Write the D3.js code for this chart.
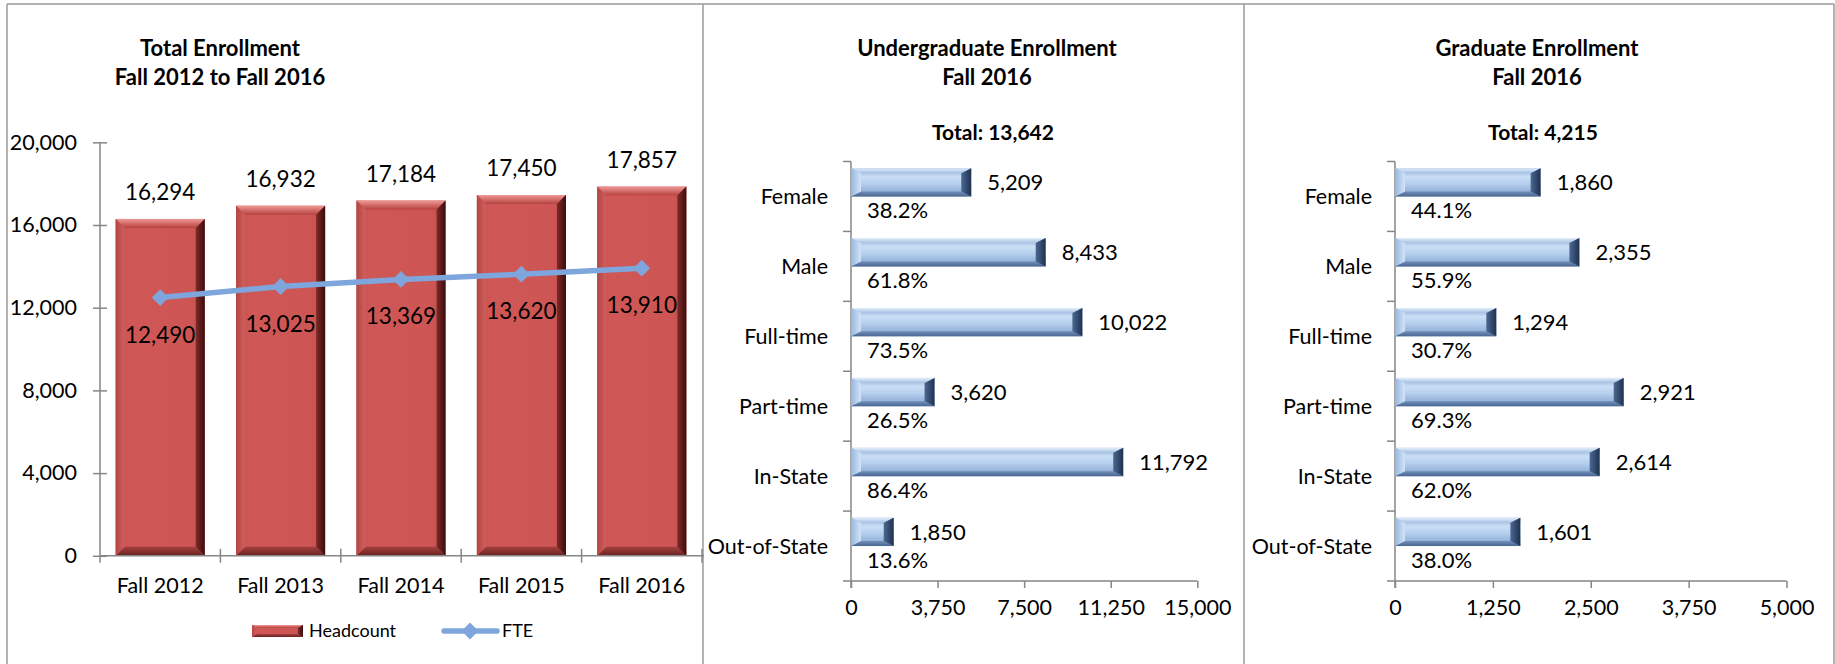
<!DOCTYPE html>
<html>
<head>
<meta charset="utf-8">
<script src="https://cdn.jsdelivr.net/npm/d3@7"></script>
<style>
body { margin: 0; background: #fff; }
svg { display: block; font-family: Lato, "Open Sans", sans-serif; }
</style>
</head>
<body>
<svg width="1835" height="664"></svg>
<script>
// total enrollment
var years = ["Fall 2012", "Fall 2013", "Fall 2014", "Fall 2015", "Fall 2016"],
    headcount = [16294, 16932, 17184, 17450, 17857],
    fte = [12490, 13025, 13369, 13620, 13910],
    totalTicks = [0, 4000, 8000, 12000, 16000, 20000];

// breakdowns, fall 2016
var categories = ["Female", "Male", "Full-time", "Part-time", "In-State", "Out-of-State"],
    ugValues = [5209, 8433, 10022, 3620, 11792, 1850],
    ugPercents = [38.2, 61.8, 73.5, 26.5, 86.4, 13.6],
    ugTicks = [0, 3750, 7500, 11250, 15000],
    gradValues = [1860, 2355, 1294, 2921, 2614, 1601],
    gradPercents = [44.1, 55.9, 30.7, 69.3, 62.0, 38.0],
    gradTicks = [0, 1250, 2500, 3750, 5000];

var svg = d3.select("svg"),
    fmt = d3.format(","),
    pct = function(d) { return d3.format(".1f")(d) + "%"; },
    axisColor = "#868686";

// gradients for the bevelled bars
var defs = svg.append("defs");
function grad(id, vertical, stops) {
  var lg = defs.append("linearGradient").attr("id", id)
    .attr("x1", 0).attr("y1", 0).attr("x2", vertical ? 0 : 1).attr("y2", vertical ? 1 : 0);
  stops.forEach(function(s) {
    lg.append("stop").attr("offset", s[0]).attr("stop-color", s[1]);
  });
}
grad("redFace", false, [[0, "#c24c4a"], [0.15, "#cf5856"], [0.85, "#cd5654"], [1, "#c04b49"]]);
grad("redTop", true, [[0, "#ef9895"], [1, "#b6413f"]]);
grad("redBot", true, [[0, "#a3403e"], [1, "#6a2422"]]);
grad("redLeft", false, [[0, "#b54543"], [1, "#cf605d"]]);
grad("redRight", false, [[0, "#7e2a28"], [1, "#3a0d0c"]]);
grad("blueFace", true, [[0, "#86a6d0"], [0.3, "#cadff6"], [0.55, "#b5cfee"], [1, "#7f9fca"]]);
grad("blueTop", true, [[0, "#e3eefa"], [1, "#a4c0e3"]]);
grad("blueBot", true, [[0, "#6f8fbb"], [1, "#4b6790"]]);
grad("blueLeft", false, [[0, "#97b6df"], [1, "#d2e4f8"]]);
grad("blueRight", false, [[0, "#4c6891"], [1, "#1e3150"]]);

var red = {face: "redFace", top: "redTop", bottom: "redBot", left: "redLeft", right: "redRight"},
    blue = {face: "blueFace", top: "blueTop", bottom: "blueBot", left: "blueLeft", right: "blueRight"};

function bevelBar(g, x, y, w, h, bx, by, pal) {
  var bw = Math.min(bx, w / 2), bh = Math.min(by, h / 2);
  var line = d3.line();
  g.append("rect").attr("x", x).attr("y", y).attr("width", w).attr("height", h)
    .attr("fill", "url(#" + pal.face + ")");
  var parts = [
    [[[x, y], [x + w, y], [x + w - bw, y + bh], [x + bw, y + bh]], pal.top],
    [[[x, y + h], [x + w, y + h], [x + w - bw, y + h - bh], [x + bw, y + h - bh]], pal.bottom],
    [[[x, y], [x + bw, y + bh], [x + bw, y + h - bh], [x, y + h]], pal.left],
    [[[x + w, y], [x + w - bw, y + bh], [x + w - bw, y + h - bh], [x + w, y + h]], pal.right]
  ];
  parts.forEach(function(p) {
    g.append("path").attr("d", line(p[0]) + "Z").attr("fill", "url(#" + p[1] + ")");
  });
}

// frame
var frame = svg.append("g").attr("stroke", "#9a9a9a").attr("stroke-width", 1.5).attr("fill", "none");
frame.append("line").attr("x1", 7).attr("x2", 1834).attr("y1", 4).attr("y2", 4);
[7, 703, 1244, 1834].forEach(function(x) {
  frame.append("line").attr("x1", x).attr("x2", x).attr("y1", 4).attr("y2", 664);
});

function titles(cx, lines, total, tx) {
  var t = svg.append("g").attr("font-weight", "bold")
    .attr("text-anchor", "middle").attr("fill", "#000");
  lines.forEach(function(s, i) {
    t.append("text").attr("x", cx).attr("y", 55.5 + i * 29).attr("font-size", 22).text(s);
  });
  if (total) t.append("text").attr("x", tx).attr("y", 140).attr("font-size", 21).text(total);
}

// ---------- panel 1: total enrollment ----------
titles(220, ["Total Enrollment", "Fall 2012 to Fall 2016"]);

var x1 = d3.scaleBand().domain(years).range([100, 702]).paddingInner(0.26).paddingOuter(0.13),
    y1 = d3.scaleLinear().domain([0, 20000]).range([555.8, 142.3]);

var p1 = svg.append("g");

var ax1 = p1.append("g").attr("transform", "translate(100,0)")
  .call(d3.axisLeft(y1).tickValues(totalTicks).tickFormat(fmt).tickSize(7).tickPadding(16).tickSizeOuter(0));
ax1.select(".domain").remove();
ax1.selectAll(".tick line").attr("x1", 7).attr("x2", -7).attr("stroke", axisColor).attr("stroke-width", 1.5);
ax1.selectAll(".tick text").attr("font-size", 21.5).attr("font-family", "Lato").attr("fill", "#000");
p1.append("line").attr("x1", 100).attr("x2", 100).attr("y1", y1(20000)).attr("y2", y1(0) + 7)
  .attr("stroke", axisColor).attr("stroke-width", 1.5);

var bars1 = p1.append("g");
years.forEach(function(yr, i) {
  bevelBar(bars1, x1(yr), y1(headcount[i]), x1.bandwidth(), y1(0) - y1(headcount[i]), 9, 9, red);
});

// x axis over the bar bases
var bounds = years.map(function(d) { return x1(d) - x1.step() * x1.paddingInner() / 2; });
bounds[0] = x1.range()[0];
bounds.push(x1.range()[1]);
p1.append("line").attr("x1", 100).attr("x2", 704).attr("y1", y1(0)).attr("y2", y1(0))
  .attr("stroke", axisColor).attr("stroke-width", 1.5);
p1.selectAll(".xt").data(bounds.slice(1)).enter().append("line")
  .attr("x1", function(d) { return d; }).attr("x2", function(d) { return d; })
  .attr("y1", y1(0) - 7).attr("y2", y1(0) + 7)
  .attr("stroke", axisColor).attr("stroke-width", 1.5);
p1.selectAll(".xl").data(years).enter().append("text")
  .attr("x", function(d) { return x1(d) + x1.bandwidth() / 2; })
  .attr("y", y1(0) + 37)
  .attr("text-anchor", "middle").attr("font-size", 21.5).text(function(d) { return d; });

// headcount labels
p1.selectAll(".hl").data(headcount).enter().append("text")
  .attr("x", function(d, i) { return x1(years[i]) + x1.bandwidth() / 2; })
  .attr("y", function(d) { return y1(d) - 19; })
  .attr("text-anchor", "middle").attr("font-size", 22.5).text(fmt);

// FTE line
var lineFte = d3.line()
  .x(function(d, i) { return x1(years[i]) + x1.bandwidth() / 2; })
  .y(function(d) { return y1(d); });
p1.append("path").datum(fte).attr("d", lineFte)
  .attr("fill", "none").attr("stroke", "#7ea6dc").attr("stroke-width", 5.5);
var diamond = d3.symbol().type(d3.symbolDiamond2).size(180);
p1.selectAll(".fm").data(fte).enter().append("path")
  .attr("d", diamond)
  .attr("transform", function(d, i) { return "translate(" + (x1(years[i]) + x1.bandwidth() / 2) + "," + y1(d) + ")"; })
  .attr("fill", "#7ea6dc");
p1.selectAll(".fl").data(fte).enter().append("text")
  .attr("x", function(d, i) { return x1(years[i]) + x1.bandwidth() / 2; })
  .attr("y", function(d) { return y1(d) + 45; })
  .attr("text-anchor", "middle").attr("font-size", 22.5).text(fmt);

// legend
var leg = svg.append("g");
bevelBar(leg, 252, 625, 51, 12, 5, 3, red);
leg.append("text").attr("x", 309).attr("y", 637).attr("font-size", 18).text("Headcount");
leg.append("line").attr("x1", 444).attr("x2", 497).attr("y1", 631).attr("y2", 631)
  .attr("stroke", "#7ea6dc").attr("stroke-width", 5.5).attr("stroke-linecap", "round");
leg.append("path").attr("d", diamond).attr("transform", "translate(470,631)").attr("fill", "#7ea6dc");
leg.append("text").attr("x", 502).attr("y", 637).attr("font-size", 18).text("FTE");

// ---------- panels 2 and 3: horizontal breakdowns ----------
function breakdown(opts) {
  titles(opts.cx, opts.title, opts.total, opts.tx);

  var x = d3.scaleLinear().domain([0, opts.ticks[opts.ticks.length - 1]]).range([opts.x0, opts.x1]),
      y = d3.scaleBand().domain(categories).range([161.5, 581]),
      sub = d3.scaleBand().domain(["value", "pct"]).range([0, y.bandwidth()]).paddingOuter(0.235);

  var g = svg.append("g");

  // x axis
  var ax = g.append("g").attr("transform", "translate(0,581)")
    .call(d3.axisBottom(x).tickValues(opts.ticks).tickFormat(fmt).tickSize(7).tickPadding(12).tickSizeOuter(0));
  ax.select(".domain").remove();
  ax.selectAll(".tick line").attr("stroke", axisColor).attr("stroke-width", 1.5);
  ax.selectAll(".tick text").attr("font-size", 21.5).attr("font-family", "Lato").attr("fill", "#000");
  g.append("line").attr("x1", opts.x0 - 8).attr("x2", opts.x1).attr("y1", 581).attr("y2", 581)
    .attr("stroke", axisColor).attr("stroke-width", 1.5);

  // y axis with category ticks
  g.append("line").attr("x1", opts.x0).attr("x2", opts.x0).attr("y1", 161.5).attr("y2", 588)
    .attr("stroke", axisColor).attr("stroke-width", 1.5);
  g.selectAll(".yt").data(categories).enter().append("line")
    .attr("x1", opts.x0 - 8).attr("x2", opts.x0)
    .attr("y1", function(d) { return y(d); }).attr("y2", function(d) { return y(d); })
    .attr("stroke", axisColor).attr("stroke-width", 1.5);
  g.selectAll(".yl").data(categories).enter().append("text")
    .attr("x", opts.x0 - 23)
    .attr("y", function(d) { return y(d) + y.bandwidth() / 2; })
    .attr("dy", "0.35em").attr("text-anchor", "end").attr("font-size", 21.5)
    .text(function(d) { return d; });

  // bars
  var bars = g.append("g");
  opts.values.forEach(function(v, i) {
    bevelBar(bars, x(0), y(categories[i]) + sub("value"), x(v) - x(0), sub.bandwidth(), 10, 5, blue);
  });

  // value labels and percentages
  g.selectAll(".vl").data(opts.values).enter().append("text")
    .attr("x", function(d) { return x(d) + 16; })
    .attr("y", function(d, i) { return y(categories[i]) + sub("value") + sub.bandwidth() / 2; })
    .attr("dy", "0.35em").attr("font-size", 22).text(fmt);
  g.selectAll(".pl").data(opts.percents).enter().append("text")
    .attr("x", opts.x0 + 16)
    .attr("y", function(d, i) { return y(categories[i]) + sub("pct") + sub.bandwidth() / 2; })
    .attr("dy", "0.35em").attr("font-size", 22).text(pct);
}

breakdown({
  cx: 987, tx: 993,
  title: ["Undergraduate Enrollment", "Fall 2016"],
  total: "Total: 13,642",
  x0: 851, x1: 1197.3,
  ticks: ugTicks, values: ugValues, percents: ugPercents
});

breakdown({
  cx: 1537, tx: 1543,
  title: ["Graduate Enrollment", "Fall 2016"],
  total: "Total: 4,215",
  x0: 1395, x1: 1786.5,
  ticks: gradTicks, values: gradValues, percents: gradPercents
});
</script>
</body>
</html>
